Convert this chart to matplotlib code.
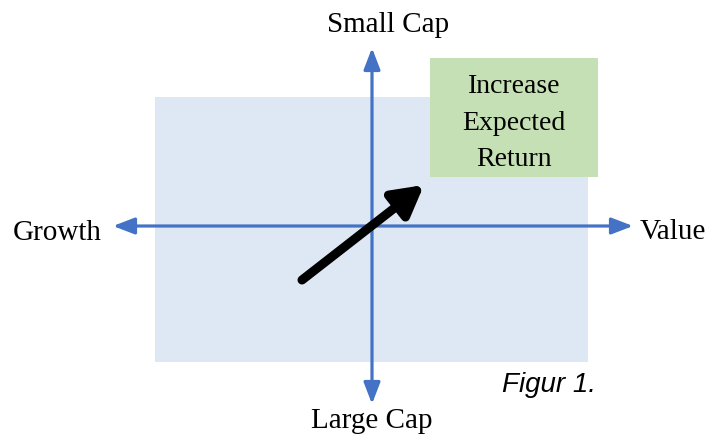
import matplotlib.pyplot as plt
from matplotlib.patches import Rectangle

BLUE = '#4472C4'; LIGHT = '#DEE8F4'; GREEN = '#C5E0B4'

# diagram content
axis_labels = ['Small Cap', 'Large Cap', 'Growth', 'Value']
box_text = ['Increase', 'Expected', 'Return']
caption = 'Figur 1.'

fig = plt.figure(figsize=(7.12, 4.37), dpi=100)
ax = fig.add_axes([0, 0, 1, 1])
ax.set_xlim(0, 712); ax.set_ylim(437, 0)
ax.axis('off')

serif = ['Liberation Serif', 'DejaVu Serif']

# background quadrant + green box
ax.add_patch(Rectangle((155, 97), 433, 265, color=LIGHT, lw=0))
ax.add_patch(Rectangle((430, 58), 168, 119, color=GREEN, lw=0))
ax.text(514, 123, '\n'.join(box_text), ha='center', va='center',
        fontsize=20, family=serif, linespacing=1.6)

# axis arrows (each half drawn from the centre outwards)
blue_style = dict(arrowstyle='-|>,head_length=1.3,head_width=0.5',
                  color=BLUE, lw=2.3, shrinkA=0, shrinkB=0)
cx, cy = 372, 226
for tip in [(113, cy), (633, cy), (cx, 48), (cx, 404)]:
    ax.annotate('', xy=tip, xytext=(cx, cy), arrowprops=blue_style)

# black diagonal arrow
ax.annotate('', xy=(424, 185), xytext=(302, 280),
            arrowprops=dict(arrowstyle='-|>,head_length=1.8,head_width=1.0',
                            color='black', lw=6.5, shrinkA=0, shrinkB=0))

ax.text(388, 25, axis_labels[0], ha='center', va='center', fontsize=21, family=serif)
ax.text(372, 421, axis_labels[1], ha='center', va='center', fontsize=21, family=serif)
ax.text(57, 233, axis_labels[2], ha='center', va='center', fontsize=21, family=serif)
ax.text(673, 232, axis_labels[3], ha='center', va='center', fontsize=21, family=serif)
ax.text(549, 385, caption, ha='center', va='center', fontsize=20,
        family=['Liberation Sans', 'DejaVu Sans'], style='italic')

plt.savefig('out.png', dpi=100)
